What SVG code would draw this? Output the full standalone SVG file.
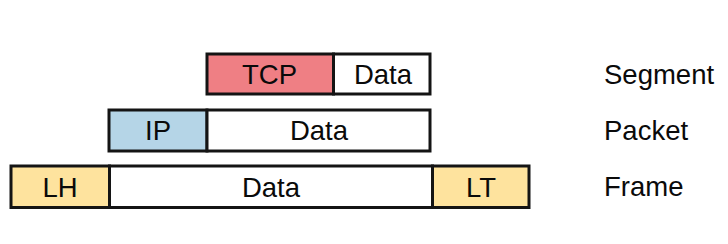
<svg xmlns="http://www.w3.org/2000/svg" width="728" height="244" viewBox="0 0 728 244">
  <style>
    .box { stroke: #141414; stroke-width: 3; }
    .hdr-tcp { fill: #ef7f84; }
    .hdr-ip { fill: #b5d5e7; }
    .hdr-link { fill: #fee39e; }
    .data { fill: #ffffff; }
    text { font-family: "Liberation Sans", Arial, sans-serif; font-size: 27.5px; fill: #0a0a0a; }
    .c { text-anchor: middle; }
  </style>
  <rect width="728" height="244" fill="#ffffff"/>

  <!-- Transport layer: segment -->
  <g id="seg-tcp">
    <rect class="box hdr-tcp" x="207" y="54" width="126.5" height="40"/>
    <text class="c" x="269.5" y="83.5">TCP</text>
  </g>
  <g id="seg-data">
    <rect class="box data" x="333.5" y="54" width="96.5" height="40"/>
    <text class="c" x="383" y="83.5">Data</text>
  </g>

  <!-- Network layer: packet -->
  <g id="pkt-ip">
    <rect class="box hdr-ip" x="109" y="110" width="98" height="41"/>
    <text class="c" x="158" y="140">IP</text>
  </g>
  <g id="pkt-data">
    <rect class="box data" x="207" y="110" width="223" height="41"/>
    <text class="c" x="319" y="140">Data</text>
  </g>

  <!-- Link layer: frame -->
  <g id="frm-lh">
    <rect class="box hdr-link" x="11" y="166" width="98.5" height="41.5"/>
    <text class="c" x="60" y="196.5">LH</text>
  </g>
  <g id="frm-data">
    <rect class="box data" x="109.5" y="166" width="323" height="41.5"/>
    <text class="c" x="271" y="196.5">Data</text>
  </g>
  <g id="frm-lt">
    <rect class="box hdr-link" x="432.5" y="166" width="96.5" height="41.5"/>
    <text class="c" x="481" y="196.5">LT</text>
  </g>

  <!-- Row names -->
  <g id="labels">
    <text x="604" y="84">Segment</text>
    <text x="604" y="140">Packet</text>
    <text x="604" y="196">Frame</text>
  </g>
</svg>
